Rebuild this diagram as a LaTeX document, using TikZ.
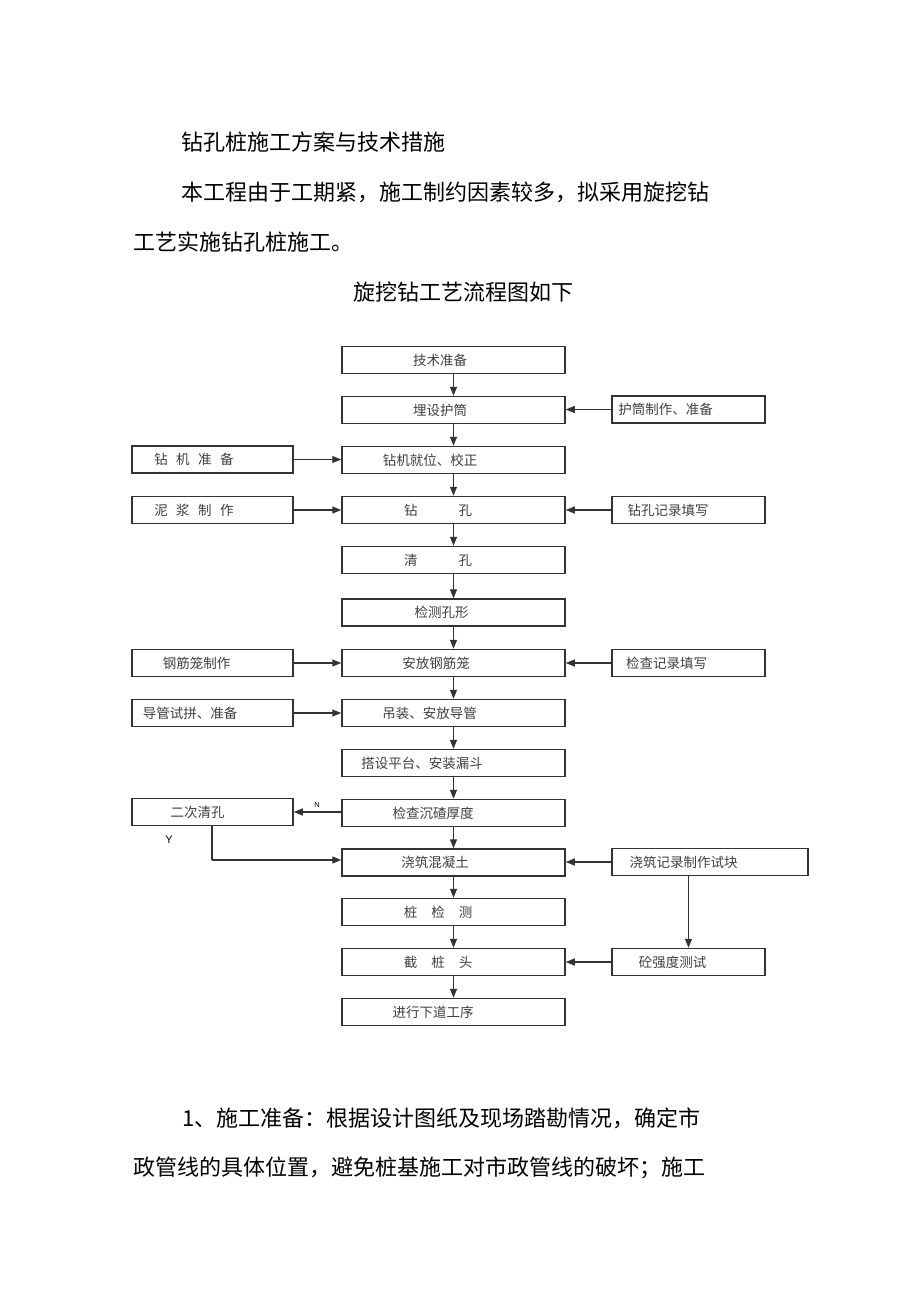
\documentclass[tikz,border=0pt]{standalone}
\usepackage{fontspec}
\setmainfont{Noto Sans CJK SC}
\newfontfamily\latinsans{Liberation Sans}
\usetikzlibrary{arrows.meta}
\tikzset{
  box/.style={draw=black!80, line width=1.5pt, minimum height=27pt, inner sep=0pt},
  mainbox/.style={box, minimum width=223pt},
  leftbox/.style={box, minimum width=161pt},
  rightbox/.style={box, minimum width=153pt},
  widebox/.style={box, minimum width=196pt},
  lbl/.style={font=\fontsize{13.5}{13.5}\selectfont, text=black!75, inner sep=0pt},
  para/.style={font=\fontsize{22}{22}\selectfont, inner sep=0pt, anchor=west, text=black},
  arr/.style={draw=black!80, line width=1.2pt, -{Triangle[length=9pt,width=7pt]}},
  ln/.style={draw=black!80, line width=1.2pt},
}
\begin{document}
\begin{tikzpicture}[x=1pt,y=-1pt]
\useasboundingbox[fill=white] (0,0) rectangle (920,1303);

% paragraph text
\node[para] (p1) at (181,142) {钻孔桩施工方案与技术措施};
\node[para] (p2) at (181,192) {本工程由于工期紧，施工制约因素较多，拟采用旋挖钻};
\node[para] (p3) at (133,242) {工艺实施钻孔桩施工。};
\node[para, anchor=center] (p4) at (463,292) {旋挖钻工艺流程图如下};
\node[para] (p5) at (182,1118) {1、施工准备：根据设计图纸及现场踏勘情况，确定市};
\node[para] (p6) at (133,1168) {政管线的具体位置，避免桩基施工对市政管线的破坏；施工};

% main column
\node[mainbox] (m1) at (453.5,360) {};
\node[mainbox] (m2) at (453.5,410) {};
\node[mainbox] (m3) at (453.5,460) {};
\node[mainbox] (m4) at (453.5,510) {};
\node[mainbox] (m5) at (453.5,560) {};
\node[mainbox] (m6) at (453.5,612.5) {};
\node[mainbox] (m7) at (453.5,663) {};
\node[mainbox] (m8) at (453.5,713) {};
\node[mainbox] (m9) at (453.5,763) {};
\node[mainbox] (m10) at (453.5,813) {};
\node[mainbox] (m11) at (453.5,862.5) {};
\node[mainbox] (m12) at (453.5,912) {};
\node[mainbox] (m13) at (453.5,962) {};
\node[mainbox] (m14) at (453.5,1012) {};

\node[lbl] (tm1) at (440,360) {技术准备};
\node[lbl] (tm2) at (440,410) {埋设护筒};
\node[lbl] (tm3) at (430,460) {钻机就位、校正};
\node[lbl] (tm4) at (438,510) {钻\hspace{41pt}孔};
\node[lbl] (tm5) at (438,560) {清\hspace{41pt}孔};
\node[lbl] (tm6) at (441.5,612.5) {检测孔形};
\node[lbl] (tm7) at (436,663) {安放钢筋笼};
\node[lbl] (tm8) at (429.5,713) {吊装、安放导管};
\node[lbl] (tm9) at (422,763) {搭设平台、安装漏斗};
\node[lbl] (tm10) at (433,813) {检查沉碴厚度};
\node[lbl] (tm11) at (435,862.5) {浇筑混凝土};
\node[lbl] (tm12) at (438,912) {桩\hspace{14pt}检\hspace{14pt}测};
\node[lbl] (tm13) at (438,962) {截\hspace{14pt}桩\hspace{14pt}头};
\node[lbl] (tm14) at (433,1012) {进行下道工序};

% left column
\node[leftbox] (l1) at (212.5,459.5) {};
\node[leftbox] (l2) at (212.5,510) {};
\node[leftbox] (l3) at (212.5,663) {};
\node[leftbox] (l4) at (212.5,713) {};
\node[leftbox] (l5) at (212.5,812) {};
\node[lbl] (tl1) at (194,459.5) {钻\hspace{8.5pt}机\hspace{8.5pt}准\hspace{8.5pt}备};
\node[lbl] (tl2) at (194,510) {泥\hspace{8.5pt}浆\hspace{8.5pt}制\hspace{8.5pt}作};
\node[lbl] (tl3) at (196.5,663) {钢筋笼制作};
\node[lbl] (tl4) at (190,713) {导管试拼、准备};
\node[lbl] (tl5) at (197.5,812) {二次清孔};

% right column
\node[rightbox] (r1) at (688.5,409.5) {};
\node[rightbox] (r2) at (688.5,510) {};
\node[rightbox] (r3) at (688.5,663) {};
\node[widebox] (r4) at (710,862) {};
\node[rightbox] (r5) at (688.5,962) {};
\node[lbl] (tr1) at (665.5,409.5) {护筒制作、准备};
\node[lbl] (tr2) at (668,510) {钻孔记录填写};
\node[lbl] (tr3) at (666.5,663) {检查记录填写};
\node[lbl] (tr4) at (683.5,862) {浇筑记录制作试块};
\node[lbl] (tr5) at (672.5,962) {砼强度测试};

% vertical main arrows
\foreach \a/\b in {m1/m2,m2/m3,m3/m4,m4/m5,m5/m6,m6/m7,m7/m8,m8/m9,m9/m10,m10/m11,m11/m12,m12/m13,m13/m14}
  \draw[arr] (\a.south) -- (\b.north);

% left inputs
\draw[arr] (l1.east) -- (m3.west |- l1.east);
\draw[arr] (l2.east) -- (m4.west);
\draw[arr] (l3.east) -- (m7.west);
\draw[arr] (l4.east) -- (m8.west);

% right inputs
\draw[arr] (r1.west) -- (m2.east |- r1.west);
\draw[arr] (r2.west) -- (m4.east);
\draw[arr] (r3.west) -- (m7.east);
\draw[arr] (r4.west) -- (m11.east |- r4.west);
\draw[arr] (r5.west) -- (m13.east);
\draw[arr] (r4.south -| r5.north) -- (r5.north);

% N / Y branch
\draw[arr] (m10.west |- l5.east) -- (l5.east);
\node[font=\latinsans\fontsize{7.5}{7.5}\selectfont, inner sep=0pt] (nlab) at (317,805) {N};
\node[font=\latinsans\fontsize{11}{11}\selectfont, inner sep=0pt] (ylab) at (169,840) {Y};
\coordinate (yturn) at (212,860);
\draw[ln] (l5.south -| yturn) -- (yturn);
\draw[arr] (yturn) -- (m11.west |- yturn);
\end{tikzpicture}
\end{document}
